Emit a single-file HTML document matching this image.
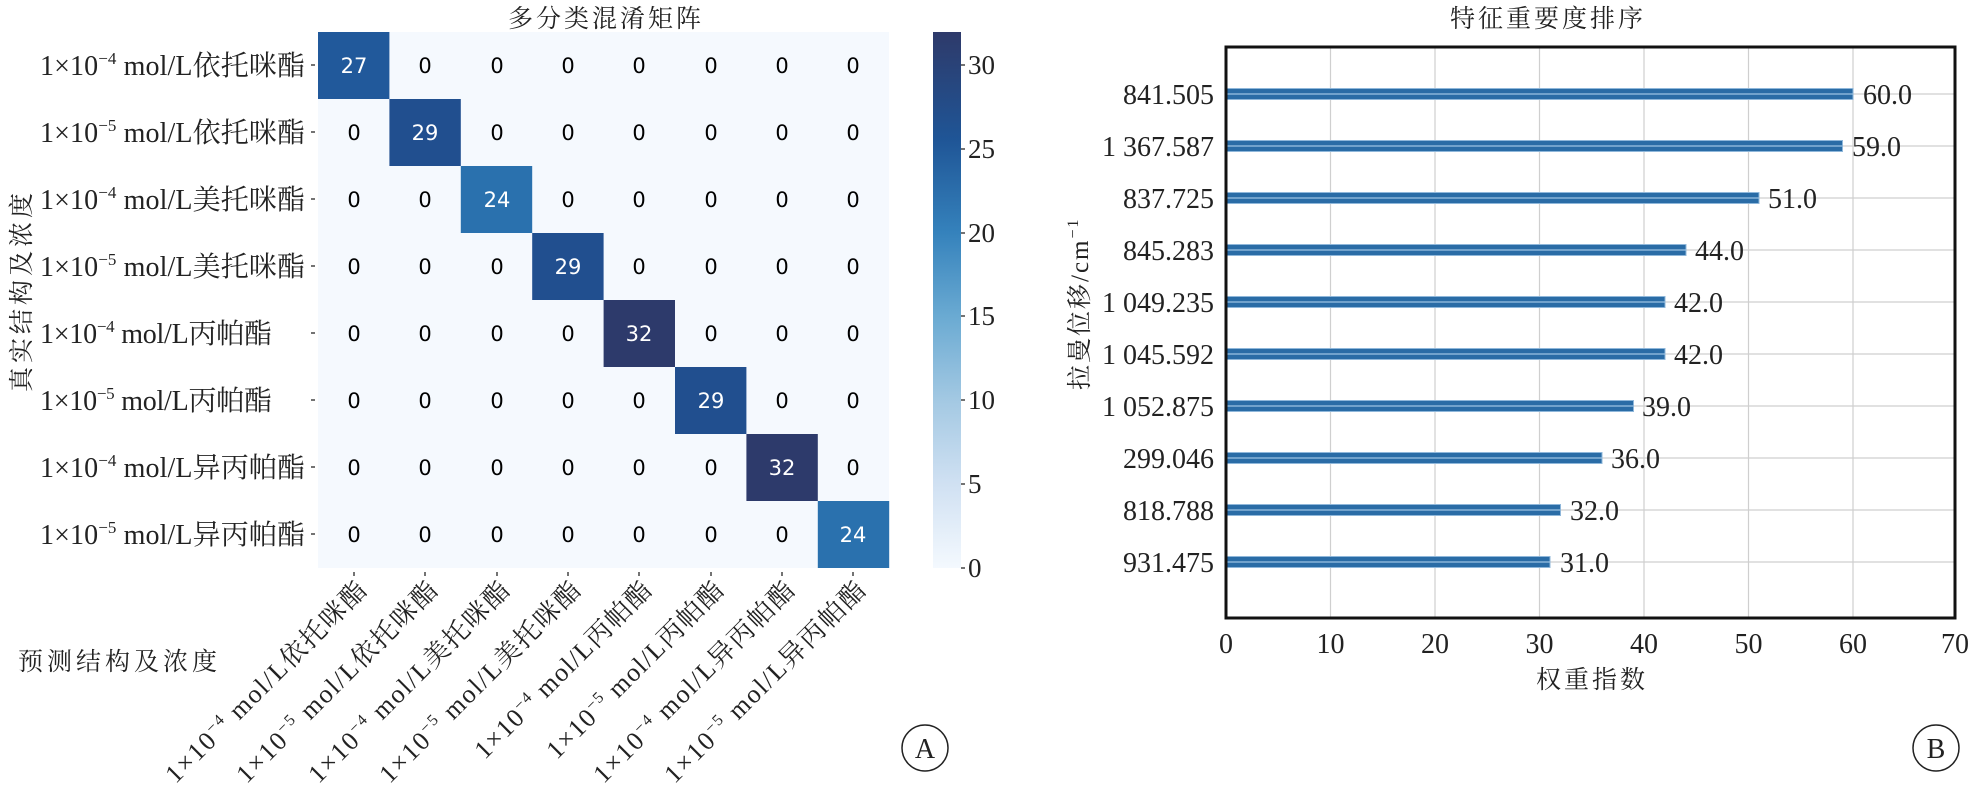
<!DOCTYPE html>
<html><head><meta charset="utf-8"><style>
html,body{margin:0;padding:0;background:#fff;}
svg{display:block;}
.s{font-family:"Liberation Serif","Noto Serif CJK SC",serif;fill:#222;}
.n{font-family:"DejaVu Sans","Liberation Sans",sans-serif;font-size:21px;}
</style></head><body>
<svg width="1970" height="803" viewBox="0 0 1970 803" xmlns="http://www.w3.org/2000/svg">
<defs>
<linearGradient id="cb" x1="0" y1="0" x2="0" y2="1">
<stop offset="0" stop-color="#2e3a6a"/>
<stop offset="0.2" stop-color="#1f5596"/>
<stop offset="0.375" stop-color="#3582bc"/>
<stop offset="0.53" stop-color="#6aaad2"/>
<stop offset="0.69" stop-color="#a4c9e3"/>
<stop offset="0.84" stop-color="#cfe0f2"/>
<stop offset="1" stop-color="#f4f9fe"/>
</linearGradient>
</defs>
<text class="s" x="508" y="27" font-size="25" letter-spacing="3">多分类混淆矩阵</text>
<rect x="318" y="32" width="571" height="536" fill="#f5f9fe"/>
<rect x="318" y="32" width="71.4" height="67" fill="#21599b"/>
<rect x="389.4" y="99" width="71.4" height="67" fill="#214f8f"/>
<rect x="460.8" y="166" width="71.4" height="67" fill="#2a71ae"/>
<rect x="532.2" y="233" width="71.4" height="67" fill="#214f8f"/>
<rect x="603.6" y="300" width="71.4" height="67" fill="#2d3a6b"/>
<rect x="675" y="367" width="71.4" height="67" fill="#214f8f"/>
<rect x="746.4" y="434" width="71.4" height="67" fill="#2d3a6b"/>
<rect x="817.8" y="501" width="71.4" height="67" fill="#2a71ae"/>
<g class="n" text-anchor="middle">
<text x="354" y="73" fill="#fff">27</text><text x="425" y="73">0</text><text x="497" y="73">0</text><text x="568" y="73">0</text><text x="639" y="73">0</text><text x="711" y="73">0</text><text x="782" y="73">0</text><text x="853" y="73">0</text>
<text x="354" y="140">0</text><text x="425" y="140" fill="#fff">29</text><text x="497" y="140">0</text><text x="568" y="140">0</text><text x="639" y="140">0</text><text x="711" y="140">0</text><text x="782" y="140">0</text><text x="853" y="140">0</text>
<text x="354" y="207">0</text><text x="425" y="207">0</text><text x="497" y="207" fill="#fff">24</text><text x="568" y="207">0</text><text x="639" y="207">0</text><text x="711" y="207">0</text><text x="782" y="207">0</text><text x="853" y="207">0</text>
<text x="354" y="274">0</text><text x="425" y="274">0</text><text x="497" y="274">0</text><text x="568" y="274" fill="#fff">29</text><text x="639" y="274">0</text><text x="711" y="274">0</text><text x="782" y="274">0</text><text x="853" y="274">0</text>
<text x="354" y="341">0</text><text x="425" y="341">0</text><text x="497" y="341">0</text><text x="568" y="341">0</text><text x="639" y="341" fill="#fff">32</text><text x="711" y="341">0</text><text x="782" y="341">0</text><text x="853" y="341">0</text>
<text x="354" y="408">0</text><text x="425" y="408">0</text><text x="497" y="408">0</text><text x="568" y="408">0</text><text x="639" y="408">0</text><text x="711" y="408" fill="#fff">29</text><text x="782" y="408">0</text><text x="853" y="408">0</text>
<text x="354" y="475">0</text><text x="425" y="475">0</text><text x="497" y="475">0</text><text x="568" y="475">0</text><text x="639" y="475">0</text><text x="711" y="475">0</text><text x="782" y="475" fill="#fff">32</text><text x="853" y="475">0</text>
<text x="354" y="542">0</text><text x="425" y="542">0</text><text x="497" y="542">0</text><text x="568" y="542">0</text><text x="639" y="542">0</text><text x="711" y="542">0</text><text x="782" y="542">0</text><text x="853" y="542" fill="#fff">24</text>
</g>
<g class="s" font-size="28">
<text x="40" y="75" textLength="265" lengthAdjust="spacing">1×10<tspan dy="-11" font-size="17">−4</tspan><tspan dy="11"> mol/L依托咪酯</tspan></text>
<text x="40" y="142" textLength="265" lengthAdjust="spacing">1×10<tspan dy="-11" font-size="17">−5</tspan><tspan dy="11"> mol/L依托咪酯</tspan></text>
<text x="40" y="209" textLength="265" lengthAdjust="spacing">1×10<tspan dy="-11" font-size="17">−4</tspan><tspan dy="11"> mol/L美托咪酯</tspan></text>
<text x="40" y="276" textLength="265" lengthAdjust="spacing">1×10<tspan dy="-11" font-size="17">−5</tspan><tspan dy="11"> mol/L美托咪酯</tspan></text>
<text x="40" y="343" textLength="232" lengthAdjust="spacing">1×10<tspan dy="-11" font-size="17">−4</tspan><tspan dy="11"> mol/L丙帕酯</tspan></text>
<text x="40" y="410" textLength="232" lengthAdjust="spacing">1×10<tspan dy="-11" font-size="17">−5</tspan><tspan dy="11"> mol/L丙帕酯</tspan></text>
<text x="40" y="477" textLength="265" lengthAdjust="spacing">1×10<tspan dy="-11" font-size="17">−4</tspan><tspan dy="11"> mol/L异丙帕酯</tspan></text>
<text x="40" y="544" textLength="265" lengthAdjust="spacing">1×10<tspan dy="-11" font-size="17">−5</tspan><tspan dy="11"> mol/L异丙帕酯</tspan></text>
</g>
<g stroke="#444" stroke-width="1.5">
<line x1="311" y1="65" x2="315" y2="65"/><line x1="311" y1="132" x2="315" y2="132"/><line x1="311" y1="199" x2="315" y2="199"/><line x1="311" y1="266" x2="315" y2="266"/><line x1="311" y1="333" x2="315" y2="333"/><line x1="311" y1="400" x2="315" y2="400"/><line x1="311" y1="467" x2="315" y2="467"/><line x1="311" y1="534" x2="315" y2="534"/>
<line x1="354" y1="572" x2="354" y2="576"/><line x1="425" y1="572" x2="425" y2="576"/><line x1="497" y1="572" x2="497" y2="576"/><line x1="568" y1="572" x2="568" y2="576"/><line x1="639" y1="572" x2="639" y2="576"/><line x1="711" y1="572" x2="711" y2="576"/><line x1="782" y1="572" x2="782" y2="576"/><line x1="853" y1="572" x2="853" y2="576"/>
</g>
<text class="s" font-size="25" letter-spacing="4" transform="translate(30,392) rotate(-90)">真实结构及浓度</text>
<text class="s" font-size="25" letter-spacing="4" x="18" y="670">预测结构及浓度</text>
<g class="s" font-size="26" text-anchor="end">
<text transform="translate(368,592) rotate(-45)" textLength="272" lengthAdjust="spacing">1×10<tspan dy="-10" font-size="16">−4</tspan><tspan dy="10"> mol/L依托咪酯</tspan></text>
<text transform="translate(439,592) rotate(-45)" textLength="272" lengthAdjust="spacing">1×10<tspan dy="-10" font-size="16">−5</tspan><tspan dy="10"> mol/L依托咪酯</tspan></text>
<text transform="translate(511,592) rotate(-45)" textLength="272" lengthAdjust="spacing">1×10<tspan dy="-10" font-size="16">−4</tspan><tspan dy="10"> mol/L美托咪酯</tspan></text>
<text transform="translate(582,592) rotate(-45)" textLength="272" lengthAdjust="spacing">1×10<tspan dy="-10" font-size="16">−5</tspan><tspan dy="10"> mol/L美托咪酯</tspan></text>
<text transform="translate(653,592) rotate(-45)" textLength="238" lengthAdjust="spacing">1×10<tspan dy="-10" font-size="16">−4</tspan><tspan dy="10"> mol/L丙帕酯</tspan></text>
<text transform="translate(725,592) rotate(-45)" textLength="238" lengthAdjust="spacing">1×10<tspan dy="-10" font-size="16">−5</tspan><tspan dy="10"> mol/L丙帕酯</tspan></text>
<text transform="translate(796,592) rotate(-45)" textLength="272" lengthAdjust="spacing">1×10<tspan dy="-10" font-size="16">−4</tspan><tspan dy="10"> mol/L异丙帕酯</tspan></text>
<text transform="translate(867,592) rotate(-45)" textLength="272" lengthAdjust="spacing">1×10<tspan dy="-10" font-size="16">−5</tspan><tspan dy="10"> mol/L异丙帕酯</tspan></text>
</g>
<circle cx="925" cy="748" r="23" fill="none" stroke="#222" stroke-width="1.5"/>
<text class="s" x="925" y="758" font-size="28" text-anchor="middle">A</text>
<rect x="933" y="32" width="28" height="536" fill="url(#cb)"/>
<g class="s" font-size="27">
<text x="968" y="74">30</text><text x="968" y="158">25</text><text x="968" y="242">20</text><text x="968" y="325">15</text><text x="968" y="409">10</text><text x="968" y="493">5</text><text x="968" y="577">0</text>
</g>
<g stroke="#444" stroke-width="1.5">
<line x1="961" y1="65" x2="965" y2="65"/><line x1="961" y1="149" x2="965" y2="149"/><line x1="961" y1="233" x2="965" y2="233"/><line x1="961" y1="316" x2="965" y2="316"/><line x1="961" y1="400" x2="965" y2="400"/><line x1="961" y1="484" x2="965" y2="484"/><line x1="961" y1="568" x2="965" y2="568"/>
</g>
<text class="s" x="1450" y="27" font-size="25" letter-spacing="3">特征重要度排序</text>
<g stroke="#cfcfcf" stroke-width="1.2">
<line x1="1330.5" y1="47" x2="1330.5" y2="618"/><line x1="1435" y1="47" x2="1435" y2="618"/><line x1="1539.5" y1="47" x2="1539.5" y2="618"/><line x1="1644" y1="47" x2="1644" y2="618"/><line x1="1748.5" y1="47" x2="1748.5" y2="618"/><line x1="1853" y1="47" x2="1853" y2="618"/>
<line x1="1226" y1="94" x2="1955" y2="94"/><line x1="1226" y1="146" x2="1955" y2="146"/><line x1="1226" y1="198" x2="1955" y2="198"/><line x1="1226" y1="250" x2="1955" y2="250"/><line x1="1226" y1="302" x2="1955" y2="302"/><line x1="1226" y1="354" x2="1955" y2="354"/><line x1="1226" y1="406" x2="1955" y2="406"/><line x1="1226" y1="458" x2="1955" y2="458"/><line x1="1226" y1="510" x2="1955" y2="510"/><line x1="1226" y1="562" x2="1955" y2="562"/>
</g>
<g fill="#2a6ca6" stroke="#8fb7da" stroke-width="1">
<rect x="1226" y="88.5" width="627" height="11"/>
<rect x="1226" y="140.5" width="616.5" height="11"/>
<rect x="1226" y="192.5" width="533" height="11"/>
<rect x="1226" y="244.5" width="460" height="11"/>
<rect x="1226" y="296.5" width="439" height="11"/>
<rect x="1226" y="348.5" width="439" height="11"/>
<rect x="1226" y="400.5" width="407.5" height="11"/>
<rect x="1226" y="452.5" width="376" height="11"/>
<rect x="1226" y="504.5" width="334.5" height="11"/>
<rect x="1226" y="556.5" width="324" height="11"/>
</g>
<g stroke="#9cc2e2" stroke-width="1.2">
<line x1="1226" y1="94" x2="1853" y2="94"/><line x1="1226" y1="146" x2="1842" y2="146"/><line x1="1226" y1="198" x2="1759" y2="198"/><line x1="1226" y1="250" x2="1686" y2="250"/><line x1="1226" y1="302" x2="1665" y2="302"/><line x1="1226" y1="354" x2="1665" y2="354"/><line x1="1226" y1="406" x2="1633" y2="406"/><line x1="1226" y1="458" x2="1602" y2="458"/><line x1="1226" y1="510" x2="1560" y2="510"/><line x1="1226" y1="562" x2="1550" y2="562"/>
</g>
<g class="s" font-size="28">
<text x="1863" y="104">60.0</text><text x="1852" y="156">59.0</text><text x="1768" y="208">51.0</text><text x="1695" y="260">44.0</text><text x="1674" y="312">42.0</text><text x="1674" y="364">42.0</text><text x="1642" y="416">39.0</text><text x="1611" y="468">36.0</text><text x="1570" y="520">32.0</text><text x="1560" y="572">31.0</text>
</g>
<g class="s" font-size="28" text-anchor="end">
<text x="1214" y="104">841.505</text><text x="1214" y="156">1 367.587</text><text x="1214" y="208">837.725</text><text x="1214" y="260">845.283</text><text x="1214" y="312">1 049.235</text><text x="1214" y="364">1 045.592</text><text x="1214" y="416">1 052.875</text><text x="1214" y="468">299.046</text><text x="1214" y="520">818.788</text><text x="1214" y="572">931.475</text>
</g>
<rect x="1226" y="47" width="729" height="571" fill="none" stroke="#111" stroke-width="3"/>
<g class="s" font-size="28" text-anchor="middle">
<text x="1226" y="653">0</text><text x="1330.5" y="653">10</text><text x="1435" y="653">20</text><text x="1539.5" y="653">30</text><text x="1644" y="653">40</text><text x="1748.5" y="653">50</text><text x="1853" y="653">60</text><text x="1955" y="653">70</text>
</g>
<text class="s" x="1592" y="688" font-size="25" text-anchor="middle" letter-spacing="3">权重指数</text>
<text class="s" font-size="25" transform="translate(1088,390) rotate(-90)" letter-spacing="2">拉曼位移/cm<tspan dy="-10" font-size="16">−1</tspan></text>
<circle cx="1936" cy="748" r="23" fill="none" stroke="#222" stroke-width="1.5"/>
<text class="s" x="1936" y="758" font-size="28" text-anchor="middle">B</text>
</svg>
</body></html>
